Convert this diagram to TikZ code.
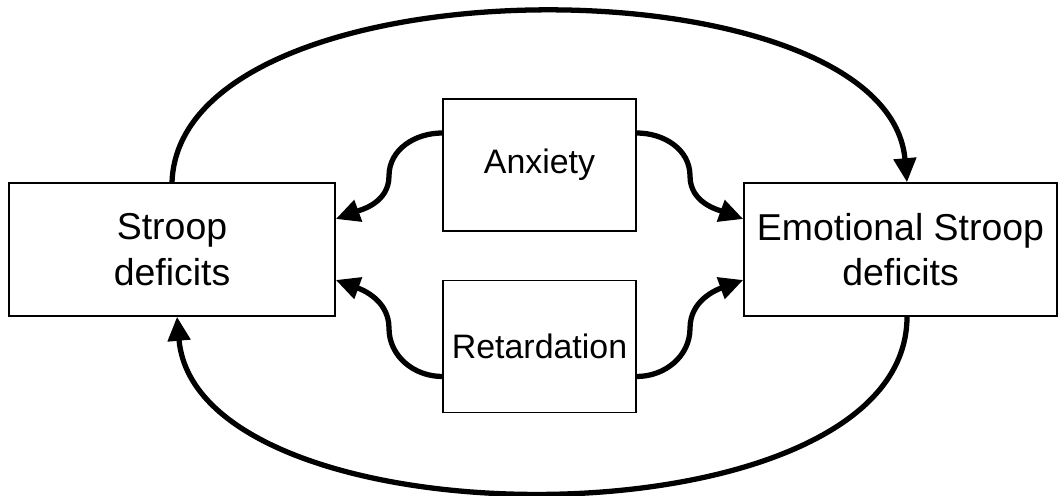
\documentclass[tikz,border=0pt]{standalone}
\usepackage{fontspec}
\setmainfont{Liberation Sans}
\usetikzlibrary{arrows.meta,positioning,calc}

\begin{document}
\begin{tikzpicture}[x=0.02cm,y=0.02cm,
	box/.style={draw, line width=0.9pt, inner sep=0pt, align=center},
	bigbox/.style={box, minimum height=2.66cm, font=\fontsize{21.3}{26}\selectfont},
	smallbox/.style={box, minimum width=3.86cm, minimum height=2.64cm, font=\fontsize{19.3}{23}\selectfont},
	link/.style={line width=3pt, -{Triangle[length=0.48cm,width=0.44cm]}}]
	%Frame of the figure%
	%===========================================================
	\useasboundingbox (0,0) rectangle (1058,496);
	%Boxes%
	%===========================================================
	\node[bigbox, minimum width=6.52cm] (stroop) at (172,246.5) {Stroop\\deficits}; %left box
	\node[bigbox, minimum width=6.26cm] (emostroop) at (900.5,246.5) {Emotional Stroop\\deficits}; %right box
	\node[smallbox] (anxiety) at (539.5,331) {Anxiety}; %upper middle box
	\node[smallbox] (retard) at (539.5,149.5) {Retardation}; %lower middle box
	%Ends of the links%
	%===========================================================
	\coordinate (anxL) at ([yshift=.64cm]anxiety.west); %Anxiety exit left
	\coordinate (anxR) at ([yshift=.64cm]anxiety.east); %Anxiety exit right
	\coordinate (retL) at ([yshift=-.6cm]retard.west); %Retardation exit left
	\coordinate (retR) at ([yshift=-.6cm]retard.east); %Retardation exit right
	\coordinate (strU) at ([yshift=.61cm]stroop.east); %Stroop entry upper
	\coordinate (strD) at ([yshift=-.61cm]stroop.east); %Stroop entry lower
	\coordinate (emoU) at ([yshift=.61cm]emostroop.west); %Emotional entry upper
	\coordinate (emoD) at ([yshift=-.61cm]emostroop.west); %Emotional entry lower
	%Links through the middle boxes%
	%===========================================================
	\draw[link] (anxL) to[out=180,in=90] ($(anxL)!.5!(strU)$) to[out=-90,in=20] (strU);
	\draw[link] (anxR) to[out=0,in=90] ($(anxR)!.5!(emoU)$) to[out=-90,in=160] (emoU);
	\draw[link] (retL) to[out=180,in=-90] ($(retL)!.5!(strD)$) to[out=90,in=-20] (strD);
	\draw[link] (retR) to[out=0,in=-90] ($(retR)!.5!(emoD)$) to[out=90,in=200] (emoD);
	%Outer links%
	%===========================================================
	\draw[link] (stroop.north) to[out=88,in=95,looseness=0.79] ([xshift=.13cm]emostroop.north); %upper arc
	\draw[link] ([xshift=.13cm]emostroop.south) to[out=-90,in=-85,looseness=0.82] ([xshift=.1cm]stroop.south); %lower arc
\end{tikzpicture}
\end{document}
